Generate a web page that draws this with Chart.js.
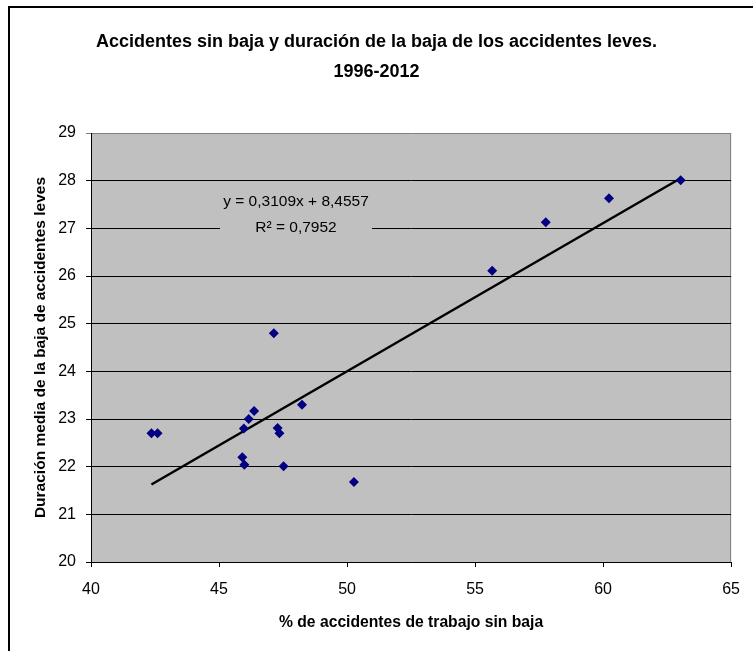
<!DOCTYPE html>
<html lang="es">
<head>
  <meta charset="UTF-8">
  <title>Accidentes sin baja y duración de la baja</title>
  <script src="https://cdn.jsdelivr.net/npm/chart.js@4.4.0/dist/chart.umd.min.js"></script>
  <style>
    html, body { margin: 0; padding: 0; background: #fff; overflow: hidden; }
    #frame { position: absolute; left: 8px; top: 6px; width: 800px; height: 700px; border-left: 2px solid #000; border-top: 2px solid #000; }
    #wrap { position: absolute; left: 0; top: 0; width: 753px; height: 651px; }
  </style>
</head>
<body>
  <div id="frame"></div>
  <div id="wrap"><canvas id="chart" width="753" height="651"></canvas></div>

  <script>
    // % de accidentes sin baja (x) y duración media de la baja de los leves (y), 1996-2012
    const pctSinBaja = [42.36, 42.60, 45.97, 46.16, 46.37, 47.29, 47.36, 45.91, 45.99, 47.52, 48.24, 50.27, 55.67, 57.76, 60.23, 63.03, 47.14];
    const duracionMedia = [22.70, 22.70, 22.80, 23.00, 23.17, 22.81, 22.70, 22.20, 22.04, 22.01, 23.30, 21.68, 26.11, 27.13, 27.63, 28.01, 24.80];

    // trend line given in the chart (Excel style)
    const slope = 0.3109;
    const intercept = 8.4557;
    const rSquared = '0,7952';

    const titleLines = ['Accidentes sin baja y duración de la baja de los accidentes leves.', '1996-2012'];
    const xTitle = '% de accidentes de trabajo sin baja';
    const yTitle = 'Duración media de la baja de accidentes leves';

    const points = pctSinBaja.map((x, i) => ({ x: x, y: duracionMedia[i] }));
    const xMin = Math.min(...pctSinBaja);
    const xMax = Math.max(...pctSinBaja);
    const trend = [xMin, xMax].map(x => ({ x: x, y: slope * x + intercept }));

    Chart.defaults.font.family = "'Liberation Sans', Arial, sans-serif";
    Chart.defaults.color = '#000';

    // grey plot area + right edge
    const plotBackground = {
      id: 'plotBackground',
      beforeDraw(chart) {
        const { ctx, chartArea: a } = chart;
        ctx.save();
        ctx.fillStyle = '#c0c0c0';
        ctx.fillRect(a.left, a.top, a.right - a.left, a.bottom - a.top);
        ctx.strokeStyle = '#808080';
        ctx.lineWidth = 1;
        ctx.beginPath();
        ctx.moveTo(a.right - 0.5, a.top);
        ctx.lineTo(a.right - 0.5, a.bottom);
        ctx.stroke();
        ctx.restore();
      }
    };

    // equation label on a grey box
    const trendLabel = {
      id: 'trendLabel',
      afterDatasetsDraw(chart) {
        const { ctx, chartArea: a } = chart;
        const cx = a.left + 205;
        ctx.save();
        ctx.fillStyle = '#c0c0c0';
        ctx.fillRect(cx - 76, a.top + 56, 152, 52);
        ctx.fillStyle = '#000';
        ctx.font = "15.5px 'Liberation Sans', Arial, sans-serif";
        ctx.textAlign = 'center';
        ctx.textBaseline = 'middle';
        const eq = 'y = ' + String(slope).replace('.', ',') + 'x + ' + String(intercept).replace('.', ',');
        ctx.fillText(eq, cx, a.top + 69);
        ctx.fillText('R² = ' + rSquared, cx, a.top + 95);
        ctx.restore();
      }
    };

    new Chart(document.getElementById('chart'), {
      type: 'scatter',
      data: {
        datasets: [
          {
            label: 'Datos',
            data: points,
            pointStyle: 'rectRot',
            pointRadius: 5,
            pointHoverRadius: 5,
            backgroundColor: '#000080',
            borderColor: '#000080',
            borderWidth: 0,
            order: 1
          },
          {
            label: 'Tendencia',
            type: 'line',
            data: trend,
            borderColor: '#000',
            borderWidth: 2.5,
            pointRadius: 0,
            fill: false,
            order: 2
          }
        ]
      },
      options: {
        responsive: false,
        animation: false,
        layout: { padding: { left: 14, right: 14, top: 0, bottom: 0 } },
        plugins: {
          legend: { display: false },
          tooltip: { enabled: false },
          title: {
            display: true,
            text: titleLines,
            font: { size: 18, weight: 'bold', lineHeight: 1.667 },
            color: '#000',
            padding: { top: 27, bottom: 46 }
          }
        },
        scales: {
          x: {
            type: 'linear',
            min: 40,
            max: 65,
            ticks: { stepSize: 5, font: { size: 16 }, padding: 13, color: '#000' },
            grid: { drawOnChartArea: false, drawTicks: true, tickLength: 5, color: '#000' },
            border: { color: '#000', width: 1 },
            title: { display: true, text: xTitle, font: { size: 15.7, weight: 'bold' }, padding: { top: 0, bottom: 19 } },
            afterFit(scale) { scale.height = 89; }
          },
          y: {
            min: 20,
            max: 29,
            ticks: { stepSize: 1, font: { size: 16 }, padding: 10, color: '#000' },
            grid: {
              color: ctx => (ctx.tick && ctx.tick.value === 29 ? '#808080' : '#000'),
              lineWidth: 1,
              tickLength: 5
            },
            border: { color: '#000', width: 1 },
            title: { display: true, text: yTitle, font: { size: 15.5, weight: 'bold' }, padding: { top: 17, bottom: 0 } },
            afterFit(scale) { scale.width = 77; }
          }
        }
      },
      plugins: [plotBackground, trendLabel]
    });
  </script>
</body>
</html>
